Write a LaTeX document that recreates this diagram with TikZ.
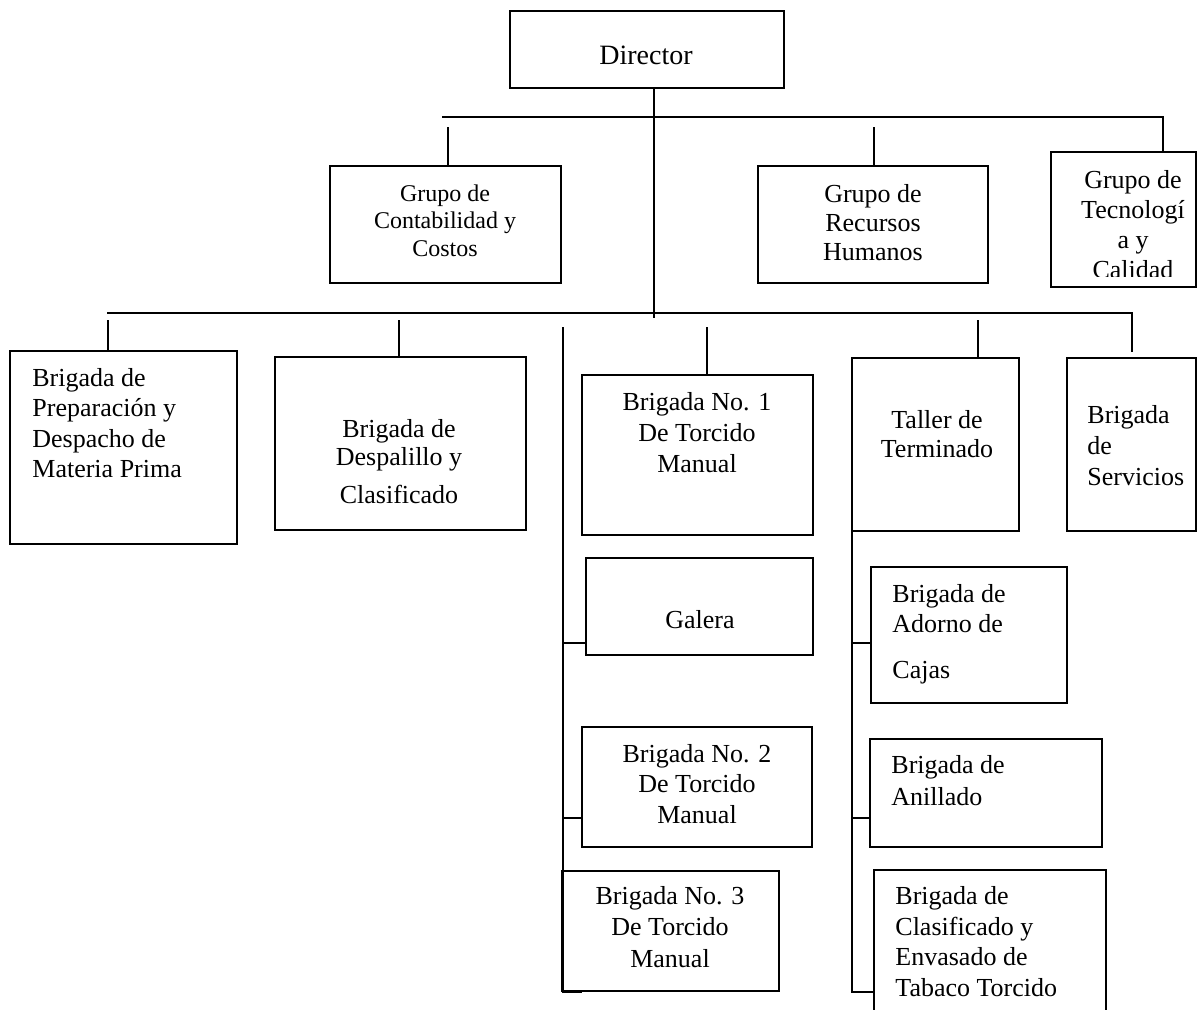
\documentclass[tikz,border=0pt]{standalone}
\usepackage{fontspec}
\setmainfont{Liberation Serif}
\usetikzlibrary{fit}
\tikzset{
  box/.style={draw, line width=1.1pt, inner sep=0pt},
  txt/.style={inner sep=0pt, align=center, anchor=north, font=\fontsize{13}{15}\selectfont},
  ltxt/.style={txt, align=left, anchor=north west},
  link/.style={line width=1.1pt}
}
\begin{document}
\begin{tikzpicture}[x=0.5pt, y=-0.5pt]
\useasboundingbox (0,0) rectangle (1197,1009);
\clip (0,0) rectangle (1197,1009);

% boxes
\node[box, fit={(510,11) (784,88)}] (dir) {};
\node[box, fit={(330,166) (561,283)}] (cont) {};
\node[box, fit={(758,166) (988,283)}] (rrhh) {};
\node[box, fit={(1051,152) (1196,287)}] (tec) {};
\node[box, fit={(10,351) (237,544)}] (prep) {};
\node[box, fit={(275,357) (526,530)}] (desp) {};
\node[box, fit={(582,375) (813,535)}] (b1) {};
\node[box, fit={(586,558) (813,655)}] (gal) {};
\node[box, fit={(582,727) (812,847)}] (b2) {};
\node[box, fit={(562,871) (779,991)}] (b3) {};
\node[box, fit={(852,358) (1019,531)}] (tall) {};
\node[box, fit={(1067,358) (1196,531)}] (serv) {};
\node[box, fit={(871,567) (1067,703)}] (adorno) {};
\node[box, fit={(870,739) (1102,847)}] (anill) {};
\node[box, fit={(874,870) (1106,1030)}] (envas) {};

% texts
\node[txt, font=\fontsize{14}{16}\selectfont] (dir-t) at (646,46) {Director};
\node[txt, font=\fontsize{12}{13.75}\selectfont] (cont-t) at (445,184) {Grupo de\\Contabilidad y\\Costos};
\node[txt, font=\fontsize{13}{14.5}\selectfont] (rrhh-t) at (873,184) {Grupo de\\Recursos\\Humanos};
\begin{scope}
\clip (1051,152) rectangle (1196,276);
\node[txt] (tec-t) at (1133,170) {Grupo de\\Tecnologí\\a y\\Calidad};
\end{scope}
\node[ltxt, font=\fontsize{13}{15.2}\selectfont] (prep-t) at (32,368) {Brigada de\\Preparación y\\Despacho de\\Materia Prima};
\node[txt, font=\fontsize{13}{14}\selectfont] (desp-t) at (399,419) {Brigada de\\Despalillo y\\[5pt]Clasificado};
\node[txt, font=\fontsize{13}{15.5}\selectfont] (b1-t) at (697,392) {Brigada No. 1\\De Torcido\\Manual};
\node[txt] (gal-t) at (700,610) {Galera};
\node[txt, font=\fontsize{13}{15.25}\selectfont] (b2-t) at (697,744) {Brigada No. 2\\De Torcido\\Manual};
\node[txt, font=\fontsize{13}{15.75}\selectfont] (b3-t) at (670,886) {Brigada No. 3\\De Torcido\\Manual};
\node[txt, font=\fontsize{13}{14.5}\selectfont] (tall-t) at (937,410) {Taller de\\Terminado};
\node[ltxt, font=\fontsize{13}{15.5}\selectfont] (serv-t) at (1087,405) {Brigada\\de\\Servicios};
\node[ltxt] (adorno-t) at (892,584) {Brigada de\\Adorno de\\[8pt]Cajas};
\node[ltxt, font=\fontsize{13}{16}\selectfont] (anill-t) at (891,755) {Brigada de\\Anillado};
\node[ltxt, font=\fontsize{13}{15.35}\selectfont] (envas-t) at (895,886) {Brigada de\\Clasificado y\\Envasado de\\Tabaco Torcido};

% buses
\coordinate (trunk) at (654,318);
\coordinate (topbus-l) at (442,117);
\coordinate (topbus-r) at (1163,117);
\coordinate (lowbus-l) at (107,313);
\coordinate (lowbus-r) at (1132,313);
\coordinate (spine-l) at (563,327);
\coordinate (spine-r) at (852,473);

\draw[link] (dir.south -| trunk) -- (trunk);
\draw[link] (topbus-l) -- (topbus-r) -- (topbus-r |- tec.north);
\draw[link] (lowbus-l) -- (lowbus-r) -- ++(0,39);
\foreach \x/\n in {448/cont, 874/rrhh}
  \draw[link] (\x,127) -- (\x,127 |- \n.north);
\foreach \x/\n in {108/prep, 399/desp, 978/tall}
  \draw[link] (\x,320) -- (\x,320 |- \n.north);
\draw[link] (707,327) -- (707,327 |- b1.north);

% torcido column
\draw[link] (spine-l) -- (spine-l |- 0,992) -- (582,992);
\draw[link] (spine-l |- 0,643) -- (gal.west |- 0,643);
\draw[link] (spine-l |- 0,818) -- (b2.west |- 0,818);

% terminado column
\draw[link] (spine-r) -- (spine-r |- 0,992) -- (envas.west |- 0,992);
\draw[link] (spine-r |- 0,643) -- (adorno.west |- 0,643);
\draw[link] (spine-r |- 0,818) -- (anill.west |- 0,818);
\end{tikzpicture}
\end{document}
